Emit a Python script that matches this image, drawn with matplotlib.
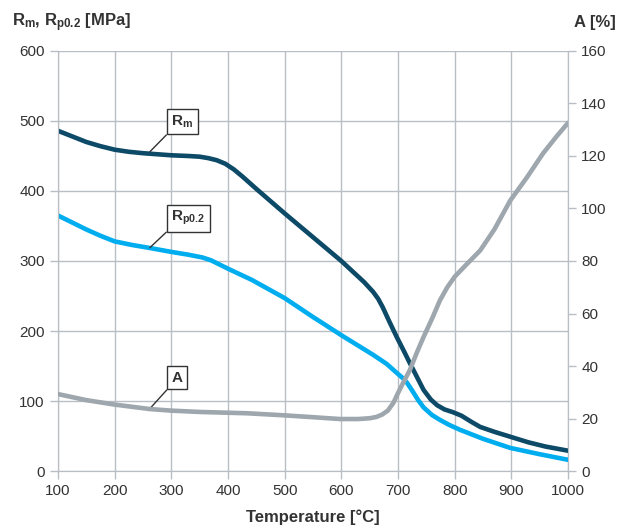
# Strength and elongation vs temperature
import matplotlib.pyplot as plt

plt.rcParams['font.family'] = ['Liberation Sans', 'DejaVu Sans']
plt.rcParams['mathtext.fontset'] = 'custom'
plt.rcParams['mathtext.rm'] = 'Liberation Sans'
plt.rcParams['mathtext.bf'] = 'Liberation Sans:bold'

# --- data ---
t_rm = [100, 125, 150, 175, 200, 225, 250, 300, 330, 350, 365, 380, 395, 410,
        425, 450, 500, 550, 600, 620, 640, 656, 665, 673, 685, 698, 710, 721,
        733, 745, 758, 769, 782, 797, 812, 830, 845, 870, 898, 930, 960, 1000]
rm = [486, 478, 470, 464, 459, 456, 454, 451, 450, 449, 447, 444, 439, 431,
      421, 403, 368, 334, 300, 285, 270, 256, 246, 234, 213, 191, 172, 154,
      135, 116, 102, 94, 88, 84, 79, 70, 63, 56, 49, 41, 35, 29]

t_rp = [100, 125, 150, 175, 200, 230, 266, 300, 330, 355, 370, 385, 400, 442,
        500, 550, 600, 656, 680, 698, 708, 716, 725, 735, 745, 760, 774, 790,
        809, 850, 898, 950, 1000]
rp = [365, 355, 345, 336, 328, 323, 318, 313, 309, 305, 301, 295, 289, 273,
      247, 220, 194, 166, 153, 140, 133, 126, 115, 102, 91, 80, 73, 66,
      59, 46, 33, 24, 16]

t_a = [100, 150, 200, 262, 300, 350, 433, 500, 550, 598, 630, 650, 662, 672,
       682, 692, 700, 710, 721, 733, 745, 760, 774, 787, 800, 820, 845, 870,
       898, 928, 956, 980, 1000]
a = [29.3, 27, 25.3, 23.6, 23, 22.5, 22, 21.2, 20.5, 19.8, 19.8, 20.1, 20.6,
     21.5, 23, 26, 29.7, 34, 38.5, 45, 51, 58, 65, 70, 74, 78.5, 84, 92,
     103, 112, 121, 127.5, 132.6]

c_rm, c_rp, c_a = '#0c4a68', '#00adef', '#9ea7ad'
grid_c = '#b8bec4'
txt_c = '#333333'

fig = plt.figure(figsize=(6.25, 5.3), dpi=100)
ax = fig.add_axes([0.0928, 0.1113, 0.816, 0.7925])
ax2 = ax.twinx()

ax.set_xlim(100, 1000)
ax.set_ylim(0, 600)
ax2.set_ylim(0, 160)
ax.set_xticks(range(100, 1001, 100))
ax.set_yticks(range(0, 601, 100))
ax2.set_yticks(range(0, 161, 20))

ax.grid(True, color=grid_c, lw=1)
ax.set_axisbelow(True)
for axis in (ax, ax2):
    axis.spines['top'].set_visible(False)
    for s in ('left', 'right', 'bottom'):
        axis.spines[s].set_color(grid_c)
    axis.tick_params(colors=grid_c, labelcolor=txt_c, labelsize=11, length=6, width=1)

style = dict(lw=3.3, solid_capstyle='round', solid_joinstyle='round', zorder=3)
ax.plot(t_rm, rm, color=c_rm, **style)
ax.plot(t_rp, rp, color=c_rp, **style)
ax2.plot(t_a, a, color=c_a, **style)

box = dict(boxstyle='square,pad=0.3', fc='white', ec='#333333', lw=1)
arrow = dict(arrowstyle='-', color='#333333', lw=1, shrinkA=0, shrinkB=0, relpos=(0, 0))
ax.annotate(r'$\mathbf{R_m}$', xy=(262, 456), xytext=(300, 499), fontsize=11,
            color=txt_c, va='center', ha='left', bbox=box, arrowprops=arrow, zorder=5)
ax.annotate(r'$\mathbf{R_{p0.2}}$', xy=(262, 319), xytext=(300, 361), fontsize=11,
            color=txt_c, va='center', ha='left', bbox=box, arrowprops=arrow, zorder=5)
ax.annotate('A', xy=(262, 89), xytext=(300, 133), fontsize=11, fontweight='bold',
            color=txt_c, va='center', ha='left', bbox=box, arrowprops=arrow, zorder=5)

fig.text(0.02, 0.958, r'$\mathbf{R_m}$, $\mathbf{R_{p0.2}}$ [MPa]', fontsize=12,
         fontweight='bold', color=txt_c, ha='left', va='center')
fig.text(0.985, 0.958, 'A [%]', fontsize=12, fontweight='bold', color=txt_c,
         ha='right', va='center')
ax.set_xlabel('Temperature [°C]', fontsize=12, fontweight='bold', color=txt_c, labelpad=8)

plt.savefig('out.png', dpi=100)
